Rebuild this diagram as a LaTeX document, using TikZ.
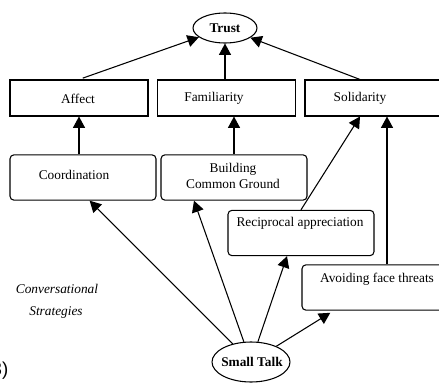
\documentclass[tikz,border=0pt]{standalone}
\usepackage{fontspec}
\setmainfont{Liberation Serif}
\setsansfont{Liberation Sans}
\usetikzlibrary{
  arrows.meta,
  shapes.geometric,
}

\begin{document}
\begin{tikzpicture}[
  x=0.75pt, y=-0.75pt,
  font=\fontsize{10}{12.5}\selectfont,
  every node/.style={align=center},
  factor/.style={draw=black, line width=0.8pt, rectangle,
                 minimum width=103.5pt, minimum height=27pt},
  strategy/.style={draw=black, line width=0.8pt, rectangle, rounded corners=3pt,
                   minimum width=109.5pt, minimum height=34pt},
  goal/.style={draw=black, line width=0.8pt, ellipse, inner sep=0pt},
  arrow/.style={-{Triangle[length=8.5pt,width=9pt]}, line width=0.8pt},
]

\useasboundingbox (0,0) rectangle (439,382);

\node[goal, minimum width=48pt, minimum height=22.5pt] (trust) at (225,28) {};
\node[font=\bfseries] (trusttext) at (225,28) {Trust};

\node[factor] (affect) at (79,98) {};
\node (affecttext) at (78,99) {Affect};
\node[factor] (famil) at (226.5,98) {};
\node (familtext) at (214,98) {Familiarity};
\node[factor] (solid) at (374,98) {};
\node (solidtext) at (360,98) {Solidarity};

\node[strategy] (coord) at (83,177.5) {};
\node (coordtext) at (74,175) {Coordination};
\node[strategy] (build) at (234,177.5) {};
\node (buildtext) at (233,176) {Building\\Common Ground};
\node[strategy] (recip) at (301,233) {};
\node (reciptext) at (300,223) {Reciprocal appreciation};
\node[strategy] (avoid) at (375,287.5) {};
\node (avoidtext) at (377,279) {Avoiding face threats};

\node[goal, minimum width=58.5pt, minimum height=30pt] (small) at (251,362) {};
\node[font=\bfseries] (smalltext) at (252,362) {Small Talk};

\node[font=\itshape] (convtext) at (57,289) {Conversational};
\node[font=\itshape] (stratext) at (56,313) {Strategies};
\node[font=\sffamily\fontsize{14}{16}\selectfont, anchor=east] (fig) at (13,371) {(3)};

% factors to trust
\draw[arrow, shorten <=3pt] (affect.north) -- (trust);
\draw[arrow] (trust.south |- famil.north) -- (trust.south);
\draw[arrow] ([xshift=-10.5pt]solid.north) -- (trust);

% strategies to factors
\draw[arrow] (affect.south |- coord.north) -- (affect.south);
\draw[arrow] (build.north) -- (build.north |- famil.south);
\draw[arrow] (recip.north) -- ([xshift=-10.5pt]solid.south);
\draw[arrow] ([xshift=9pt]avoid.north) -- ([xshift=9pt]avoid.north |- solid.south);

% small talk to strategies
\draw[arrow] (small) -- ([xshift=5pt]coord.south);
\draw[arrow] (small) -- ([xshift=-30pt]build.south);
\draw[arrow] (small) -- ([xshift=-10.5pt]recip.south);
\draw[arrow, shorten >=3pt] (small) -- ([xshift=-31pt]avoid.south);

\end{tikzpicture}
\end{document}
